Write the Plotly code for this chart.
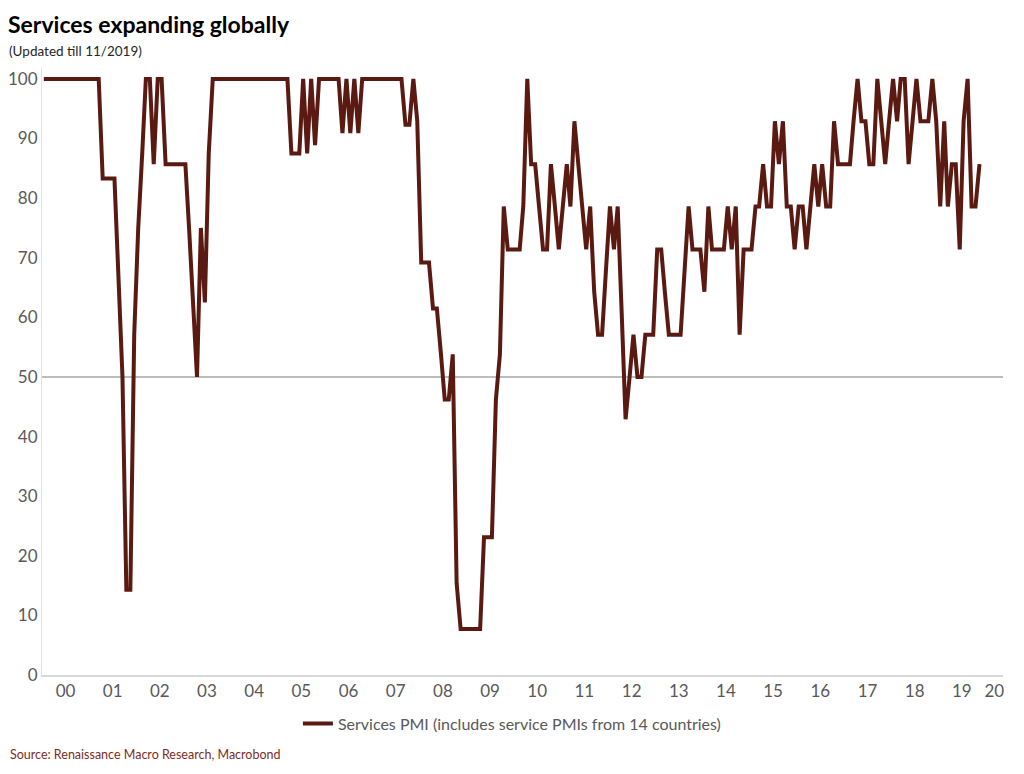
from logging import INFO
from logging import basicConfig
from logging import getLogger

import pandas as pd

from plotly.graph_objects import Figure
from plotly.graph_objects import Scatter

# monthly readings, share of countries with services PMI above 50 (%)
pmi_2000_2004 = [
    100, 100, 100, 100, 100, 100, 100, 100, 100, 100, 100, 100,
    100, 100, 100, 83.3, 83.3, 83.3, 83.3, 66.7, 50, 14.3, 14.3, 57.1,
    75, 87.5, 100, 100, 85.7, 100, 100, 85.7, 85.7, 85.7, 85.7, 85.7,
    85.7, 74, 62, 50, 75, 62.5, 87.5, 100, 100, 100, 100, 100,
    100, 100, 100, 100, 100, 100, 100, 100, 100, 100, 100, 100,
]
pmi_2005_2009 = [
    100, 100, 100, 87.5, 87.5, 87.5, 100, 87.5, 100, 88.9, 100, 100,
    100, 100, 100, 100, 90.9, 100, 90.9, 100, 90.9, 100, 100, 100,
    100, 100, 100, 100, 100, 100, 100, 100, 92.3, 92.3, 100, 93,
    69.2, 69.2, 69.2, 61.5, 61.5, 54, 46.2, 46.2, 53.8, 15.4, 7.7, 7.7,
    7.7, 7.7, 7.7, 7.7, 23.1, 23.1, 23.1, 46.2, 53.8, 78.6, 71.4, 71.4,
]
pmi_2010_2014 = [
    71.4, 71.4, 78.6, 100, 85.7, 85.7, 78.6, 71.4, 71.4, 85.7, 78.6, 71.4,
    78.6, 85.7, 78.6, 92.9, 85.7, 78.6, 71.4, 78.6, 64.3, 57.1, 57.1, 67.9,
    78.6, 71.4, 78.6, 60.7, 42.9, 50, 57.1, 50, 50, 57.1, 57.1, 57.1,
    71.4, 71.4, 64.3, 57.1, 57.1, 57.1, 57.1, 67.9, 78.6, 71.4, 71.4, 71.4,
    64.3, 78.6, 71.4, 71.4, 71.4, 71.4, 78.6, 71.4, 78.6, 57.1, 71.4, 71.4,
]
pmi_2015_2019 = [
    71.4, 78.6, 78.6, 85.7, 78.6, 78.6, 92.9, 85.7, 92.9, 78.6, 78.6, 71.4,
    78.6, 78.6, 71.4, 78.6, 85.7, 78.6, 85.7, 78.6, 78.6, 92.9, 85.7, 85.7,
    85.7, 85.7, 92.9, 100, 92.9, 92.9, 85.7, 85.7, 100, 92.9, 85.7, 92.9,
    100, 92.9, 100, 100, 85.7, 92.9, 100, 92.9, 92.9, 92.9, 100, 92.9,
    78.6, 92.9, 78.6, 85.7, 85.7, 71.4, 92.9, 100, 78.6, 78.6, 85.7,
]
first_month = '2000-01-01'
axis_end = '2020-05-15'
year_labels = ['00', '01', '02', '03', '04', '05', '06', '07', '08', '09',
               '10', '11', '12', '13', '14', '15', '16', '17', '18', '19', '20']
y_ticks = [0, 10, 20, 30, 40, 50, 60, 70, 80, 90, 100]
threshold = 50

series_name = 'Services PMI (includes service PMIs from 14 countries)'
title = 'Services expanding globally'
subtitle = '(Updated till 11/2019)'
source = 'Source: Renaissance Macro Research, Macrobond'

if __name__ == '__main__':
    logger = getLogger(__name__)
    basicConfig(format='%(asctime)s : %(levelname)s : %(message)s', level=INFO)

    values = pmi_2000_2004 + pmi_2005_2009 + pmi_2010_2014 + pmi_2015_2019
    # points sit in the middle of each month, like the excel date axis
    months = pd.date_range(first_month, periods=len(values), freq='MS') + pd.Timedelta(days=14)
    logger.info('{} months, last {}'.format(len(values), months[-1].date()))

    # year labels centred on each year, the last one on the visible part of 2020
    start = pd.Timestamp(first_month)
    end = pd.Timestamp(axis_end)
    tick_positions = [pd.Timestamp(year=start.year + i, month=7, day=1) for i in range(len(year_labels) - 1)]
    last_year = pd.Timestamp(year=end.year, month=1, day=1)
    tick_positions.append(last_year + (end - last_year) / 2)

    fig = Figure()
    fig.add_trace(Scatter(x=months, y=values, mode='lines', name=series_name,
                          line=dict(color='#5a1a12', width=4), showlegend=True, ))
    fig.add_hline(y=threshold, line=dict(color='#a6a6a6', width=1.5), layer='below')

    # the page body adds 8px, so the figure is 8px smaller on each side
    fig.update_layout(
        width=1016, height=766,
        margin=dict(l=34, r=21, t=59, b=99, autoexpand=False),
        paper_bgcolor='white', plot_bgcolor='white',
        font=dict(family='Lato', color='#595959'),
        title=dict(text='<b>{}</b>'.format(title), x=0.0, xref='container', xanchor='left',
                   y=0.988, yref='container', yanchor='top',
                   font=dict(family='Lato', size=23, color='black')),
        legend=dict(orientation='h', x=0.489, xanchor='center', y=-0.08, yanchor='middle',
                    font=dict(size=16, color='#595959'), itemwidth=30),
        annotations=[
            dict(text=subtitle, xref='paper', yref='paper', x=-0.036, y=1.026, xanchor='left',
                 yanchor='middle', showarrow=False, font=dict(size=13.5, color='#262626')),
            dict(text=source, xref='paper', yref='paper', x=-0.035, y=-0.13, xanchor='left',
                 yanchor='middle', showarrow=False, font=dict(size=12.5, color='#7b2d1e')),
        ],
    )
    fig.update_xaxes(type='date', range=[first_month, axis_end], tickvals=tick_positions,
                     ticktext=year_labels, ticks='', showgrid=False, zeroline=False,
                     showline=True, linecolor='#d9d9d9', linewidth=1.5, automargin=False,
                     tickfont=dict(size=17, color='#595959'))
    fig.update_yaxes(range=[0, 102], tickvals=y_ticks, ticks='', showgrid=False, zeroline=False,
                     showline=True, linecolor='#e3e3e3', linewidth=1, automargin=False,
                     tickfont=dict(size=17, color='#595959'))

    fig.write_html('out.html')
    logger.info('done.')
